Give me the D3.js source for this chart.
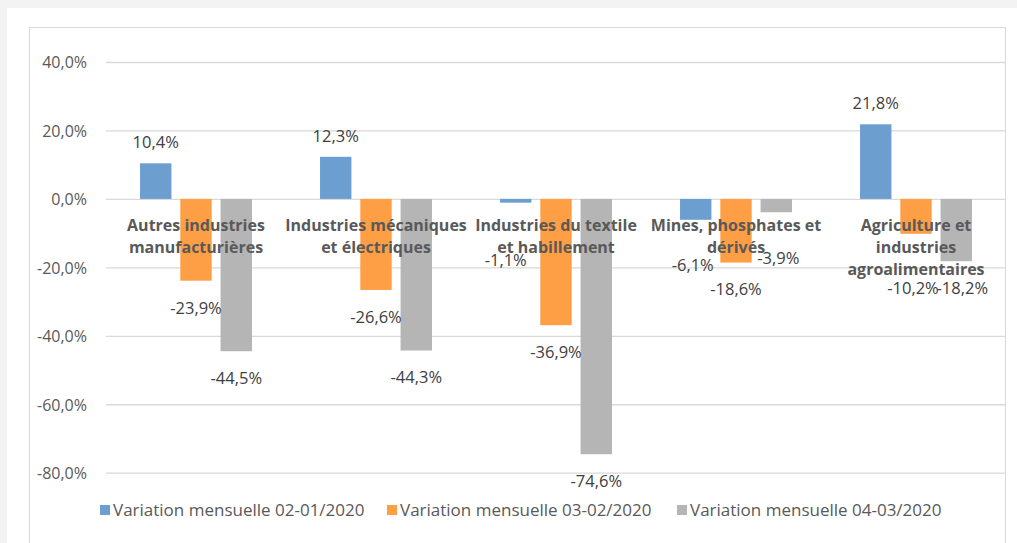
<!DOCTYPE html>
<html>
<head>
<meta charset="utf-8">
<script src="https://cdn.jsdelivr.net/npm/d3@7"></script>
<style>
  html, body { margin: 0; padding: 0; background: #f3f3f3; }
  svg { display: block; }
  text { font-family: "Open Sans", "Noto Sans", sans-serif; fill: #595959; }
</style>
</head>
<body>
<svg id="chart" width="1017" height="543"></svg>
<script>
// categories (each one already split in lines, like in the original)
var categories = [
	["Autres industries", "manufacturières"],
	["Industries mécaniques", "et électriques"],
	["Industries du textile", "et habillement"],
	["Mines, phosphates et", "dérivés"],
	["Agriculture et", "industries", "agroalimentaires"]
];
var seriesNames = [
	"Variation mensuelle 02-01/2020",
	"Variation mensuelle 03-02/2020",
	"Variation mensuelle 04-03/2020"
];
var var0201 = [0.104, 0.123, -0.011, -0.061, 0.218];
var var0302 = [-0.239, -0.266, -0.369, -0.186, -0.102];
var var0403 = [-0.445, -0.443, -0.746, -0.039, -0.182];
var yTicks = [0.4, 0.2, 0, -0.2, -0.4, -0.6, -0.8];

// label nudges, Excel pushed some labels lower so they avoid the category text
var labelNudge = [
	[0, 0, 0],
	[0, 0, 0],
	[[-10, 30], 0, 0],
	[[-3, 18], 0, [2, 19]],
	[0, [-3, 27], [6, 0]]
];

var colors = ["#6c9fd0", "#fe9f45", "#b5b5b5"];

var fr = d3.formatLocale({decimal: ",", thousands: " ", grouping: [3], currency: ["", " €"], minus: "-"});
var pct = fr.format(".1%");

var svg = d3.select('#chart'),
	margin = {top: 62, right: 11, bottom: 70, left: 106},
	width = 1017 - margin.left - margin.right,
	height = 543 - margin.top - margin.bottom;

// white panel + light frame
svg.append("rect").attr("x", 7).attr("y", 8).attr("width", 1010).attr("height", 535).attr("fill", "#fff");
svg.append("rect").attr("x", 29.5).attr("y", 27.5).attr("width", 976).attr("height", 530)
	.attr("fill", "none").attr("stroke", "#d9d9d9").attr("stroke-width", 1);

var chart = svg.append("g")
	.attr("transform", "translate(" + margin.left + "," + margin.top + ")");

var y = d3.scaleLinear()
	.domain([-0.8, 0.4])
	.range([410.7, 0]);

var x = d3.scaleBand()
	.domain(d3.range(categories.length))
	.range([0, 900])
	.paddingInner(0.378)
	.paddingOuter(0.189);

var xs = d3.scaleBand()
	.domain(d3.range(seriesNames.length))
	.range([0, x.bandwidth()])
	.paddingInner(0.22);

// gridlines + y labels
var yAxis = chart.append("g")
	.attr("class", "axis axis-y")
	.call(d3.axisLeft(y).tickValues(yTicks).tickSize(-900).tickFormat(pct));
yAxis.select(".domain").remove();
yAxis.selectAll(".tick line").attr("stroke", "#d9d9d9").attr("stroke-width", 1.3);
yAxis.selectAll(".tick text")
	.attr("x", -19)
	.attr("dy", "0.36em")
	.style("font-size", "16px")
	.style("font-family", "'Open Sans', sans-serif")
	.style("fill", "#595959");

var table = categories.map(function(c, i) {
	return [var0201[i], var0302[i], var0403[i]].map(function(v, s) {
		return {cat: i, s: s, v: v};
	});
});
var flat = d3.merge(table);

var bars = chart.append("g").attr("class", "bars");
bars.selectAll("rect")
	.data(flat)
	.enter().append("rect")
	.attr("x", function(d) { return x(d.cat) + xs(d.s); })
	.attr("width", xs.bandwidth())
	.attr("y", function(d) { return y(Math.max(0, d.v)); })
	.attr("height", function(d) { return Math.abs(y(d.v) - y(0)); })
	.attr("fill", function(d) { return colors[d.s]; });

// category labels sit over the bars, under the zero line
var catG = chart.append("g").attr("class", "cats");
catG.selectAll("text")
	.data(categories)
	.enter().append("text")
	.attr("text-anchor", "middle")
	.attr("y", y(0) + 32)
	.style("font-size", "16px")
	.style("font-weight", "bold")
	.each(function(lines, i) {
		var t = d3.select(this);
		lines.forEach(function(l, k) {
			t.append("tspan")
				.attr("x", x(i) + x.bandwidth() / 2)
				.attr("dy", k === 0 ? 0 : 22)
				.text(l);
		});
	});

// value labels
chart.append("g").attr("class", "labels")
	.selectAll("text")
	.data(flat)
	.enter().append("text")
	.attr("text-anchor", "middle")
	.style("font-size", "16.5px")
	.style("fill", "#404040")
	.attr("x", function(d) {
		var n = labelNudge[d.cat][d.s];
		return x(d.cat) + xs(d.s) + xs.bandwidth() / 2 + (n ? n[0] : 0);
	})
	.attr("y", function(d) {
		var n = labelNudge[d.cat][d.s];
		var base = d.v >= 0 ? y(d.v) - 21 : y(d.v) + 27;
		return base + (n ? n[1] : 0);
	})
	.attr("dy", "0.36em")
	.text(function(d) { return pct(d.v); });

// legend
var legend = svg.append("g").attr("class", "legend")
	.attr("transform", "translate(0,511)");
var legX = [100, 387, 677];
var item = legend.selectAll("g")
	.data(seriesNames)
	.enter().append("g")
	.attr("transform", function(d, i) { return "translate(" + legX[i] + ",0)"; });
item.append("rect")
	.attr("y", -6).attr("width", 10).attr("height", 10)
	.attr("fill", function(d, i) { return colors[i]; });
item.append("text")
	.attr("x", 13)
	.attr("dy", "0.32em")
	.style("font-size", "17px")
	.text(function(d) { return d; });
</script>
</body>
</html>
